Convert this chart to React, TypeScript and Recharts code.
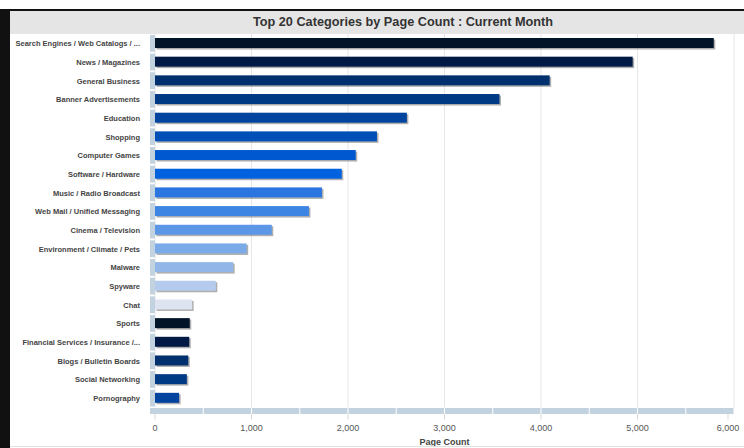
import { Bar, BarChart, CartesianGrid, Cell, XAxis, YAxis } from "recharts";

const categories = [
  "Search Engines / Web Catalogs / ...",
  "News / Magazines",
  "General Business",
  "Banner Advertisements",
  "Education",
  "Shopping",
  "Computer Games",
  "Software / Hardware",
  "Music / Radio Broadcast",
  "Web Mail / Unified Messaging",
  "Cinema / Television",
  "Environment / Climate / Pets",
  "Malware",
  "Spyware",
  "Chat",
  "Sports",
  "Financial Services / Insurance /...",
  "Blogs / Bulletin Boards",
  "Social Networking",
  "Pornography",
];

const pageCounts = [
  5790, 4950, 4090, 3570, 2610, 2300, 2080, 1935, 1730, 1595, 1210, 950, 810,
  630, 385, 360, 355, 345, 330, 250,
];

const barColors = [
  "#011428",
  "#001a45",
  "#00306e",
  "#003a85",
  "#0044a0",
  "#0050b8",
  "#0058d0",
  "#0062de",
  "#2a75e0",
  "#3d85e3",
  "#5c96e6",
  "#7aaae8",
  "#93b6e8",
  "#b5cbee",
  "#dde3f0",
  "#011428",
  "#001a45",
  "#00306e",
  "#003a85",
  "#0044a0",
];

const countTicks = [0, 1000, 2000, 3000, 4000, 5000, 6000];

const data = categories.map((category, i) => ({
  category,
  count: pageCounts[i],
}));

const CHART_W = 744;
const CHART_H = 448;
const AXIS_W = 155;
const RIGHT_GAP = 10;
const HALF_STEP = (CHART_W - AXIS_W - RIGHT_GAP) / 12;
const STRIP = "#c3d2df";
const FONT = '"Liberation Sans", Arial, sans-serif';

function CategoryTick({ x, y, payload }: any) {
  return (
    <g>
      <rect x={x - 5} y={y - 8.4} width={5} height={16.8} fill={STRIP} />
      <text
        x={x - 15}
        y={y}
        dy={3}
        textAnchor="end"
        fontSize={7.5}
        fontWeight="bold"
        fontFamily={FONT}
        fill="#444"
      >
        {payload.value}
      </text>
    </g>
  );
}

function CountTick({ x, y, payload }: any) {
  const isLast = payload.value === countTicks[countTicks.length - 1];
  const isFirst = payload.value === countTicks[0];
  return (
    <g>
      {!isLast && (
        <>
          <rect
            x={isFirst ? x - 5 : x + 0.5}
            y={y + 0.5}
            width={isFirst ? HALF_STEP + 4.5 : HALF_STEP - 1}
            height={6}
            fill={STRIP}
          />
          <rect
            x={x + HALF_STEP + 0.5}
            y={y + 0.5}
            width={HALF_STEP - 1}
            height={6}
            fill={STRIP}
          />
        </>
      )}
      <line x1={x} x2={x} y1={y + 6.5} y2={y + 12} stroke="#d8d8d8" />
      <text
        x={x}
        y={y + 23}
        textAnchor="middle"
        fontSize={9}
        fontFamily={FONT}
        fill="#555"
      >
        {payload.value.toLocaleString("en-US")}
      </text>
    </g>
  );
}

function ShadowBar({ x, y, width, height, fill }: any) {
  if (!width) return null;
  return (
    <g>
      <rect
        x={x + 1.5}
        y={y + 1.5}
        width={width}
        height={height}
        fill="#6d6d6d"
        opacity={0.55}
      />
      <rect x={x} y={y} width={width} height={height} fill={fill} />
    </g>
  );
}

export default function App() {
  return (
    <div
      style={{
        position: "absolute",
        left: 0,
        top: 0,
        width: CHART_W,
        height: CHART_H,
        background: "#fff",
        fontFamily: FONT,
        overflow: "hidden",
      }}
    >
      <BarChart
        width={CHART_W}
        height={CHART_H}
        data={data}
        layout="vertical"
        margin={{ top: 34, right: RIGHT_GAP, left: 0, bottom: 0 }}
        barCategoryGap={0}
      >
        <CartesianGrid horizontal={false} stroke="#e6e6e6" />
        <XAxis
          type="number"
          domain={[0, 6000]}
          ticks={countTicks}
          height={40.5}
          tickSize={0}
          tickMargin={0}
          axisLine={false}
          tick={<CountTick />}
          label={{
            value: "Page Count",
            position: "insideBottom",
            offset: 3,
            fontSize: 9,
            fontWeight: "bold",
            fill: "#444",
            fontFamily: FONT,
          }}
        />
        <YAxis
          type="category"
          dataKey="category"
          width={AXIS_W}
          tickSize={0}
          tickMargin={0}
          axisLine={false}
          interval={0}
          tick={<CategoryTick />}
        />
        <Bar
          dataKey="count"
          barSize={10}
          isAnimationActive={false}
          shape={<ShadowBar />}
        >
          {data.map((d, i) => (
            <Cell key={d.category} fill={barColors[i]} />
          ))}
        </Bar>
      </BarChart>
      <div
        style={{
          position: "absolute",
          left: 0,
          top: 9,
          width: CHART_W,
          height: 2,
          background: "#111",
        }}
      />
      <div
        style={{
          position: "absolute",
          left: 0,
          top: 9,
          width: 10,
          height: CHART_H - 9,
          background: "#111",
        }}
      />
      <div
        style={{
          position: "absolute",
          left: 10,
          top: 11,
          width: CHART_W - 10 - 52,
          paddingLeft: 52,
          height: 23,
          lineHeight: "23px",
          background: "#e5e5e5",
          textAlign: "center",
          fontSize: 12.7,
          fontWeight: "bold",
          color: "#333",
        }}
      >
        Top 20 Categories by Page Count : Current Month
      </div>
      <div
        style={{
          position: "absolute",
          left: 10,
          top: 446,
          width: CHART_W - 10,
          height: 1,
          background: "#e0e0e0",
        }}
      />
    </div>
  );
}
